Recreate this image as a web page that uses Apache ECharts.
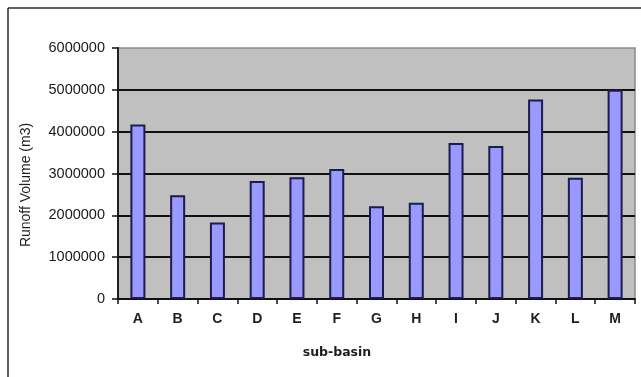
<!DOCTYPE html>
<html>
<head>
<meta charset="utf-8">
<script src="https://cdn.jsdelivr.net/npm/echarts@6/dist/echarts.min.js"></script>
<style>
  html, body { margin: 0; padding: 0; background: #ffffff; }
  #chart { width: 641px; height: 377px; }
</style>
</head>
<body>
<div id="chart"></div>
<script>
// Runoff volume per sub-basin (m3)
const subBasins = ['A', 'B', 'C', 'D', 'E', 'F', 'G', 'H', 'I', 'J', 'K', 'L', 'M'];
const runoffVolume = [4170000, 2480000, 1830000, 2820000, 2910000, 3110000, 2220000, 2300000, 3730000, 3660000, 4770000, 2900000, 5000000];
const yTicks = [0, 1000000, 2000000, 3000000, 4000000, 5000000, 6000000];

const chart = echarts.init(document.getElementById('chart'), null, { renderer: 'canvas' });

const option = {
  backgroundColor: '#ffffff',
  animation: false,
  grid: {
    left: 118, right: 6, top: 48, bottom: 78,
    show: true,
    backgroundColor: '#c0c0c0',
    borderColor: '#8c8c8c',
    borderWidth: 1.5
  },
  xAxis: {
    type: 'category',
    data: subBasins,
    axisLine: { show: true, lineStyle: { color: '#111', width: 1.8 } },
    axisTick: { show: true, inside: false, length: 5, lineStyle: { color: '#111', width: 1.5 } },
    axisLabel: {
      color: '#1e1e1e', fontSize: 14, fontWeight: 'bold',
      fontFamily: '"Liberation Sans Narrow", "Arial Narrow", Arial, sans-serif',
      margin: 13
    }
  },
  yAxis: {
    type: 'value',
    min: yTicks[0],
    max: yTicks[yTicks.length - 1],
    interval: yTicks[1] - yTicks[0],
    axisLine: { show: true, lineStyle: { color: '#111', width: 1.8 } },
    axisTick: { show: true, length: 6, lineStyle: { color: '#111', width: 1.5 } },
    axisLabel: {
      color: '#1a1a1a', fontSize: 14.5,
      fontFamily: 'Arial, "Liberation Sans", sans-serif',
      margin: 13,
      formatter: v => String(v)
    },
    splitLine: {
      show: true,
      showMinLine: false,
      showMaxLine: false,
      lineStyle: { color: '#111', width: 1.8 }
    }
  },
  series: [{
    type: 'bar',
    data: runoffVolume,
    barWidth: 15,
    itemStyle: { color: '#9999ff', borderColor: '#1c1c4e', borderWidth: 2 }
  }],
  graphic: [
    // outer chart frame (top and left edges)
    { type: 'line', shape: { x1: 8, y1: 8, x2: 641, y2: 8 }, style: { stroke: '#2a2a2a', lineWidth: 1.5 } },
    { type: 'line', shape: { x1: 8, y1: 8, x2: 8, y2: 377 }, style: { stroke: '#2a2a2a', lineWidth: 1.5 } },
    {
      type: 'text', x: 26, y: 185, rotation: Math.PI / 2,
      style: {
        text: 'Runoff Volume (m3)', fill: '#1e1e1e', fontSize: 14,
        fontFamily: 'Arial, "Liberation Sans", sans-serif',
        align: 'center', verticalAlign: 'middle'
      }
    },
    {
      type: 'text', x: 337, y: 353,
      style: {
        text: 'sub-basin', fill: '#1e1e1e', fontSize: 12.5, fontWeight: 'bold',
        fontFamily: '"DejaVu Sans", sans-serif',
        align: 'center', verticalAlign: 'middle'
      }
    }
  ]
};

chart.setOption(option);
</script>
</body>
</html>
